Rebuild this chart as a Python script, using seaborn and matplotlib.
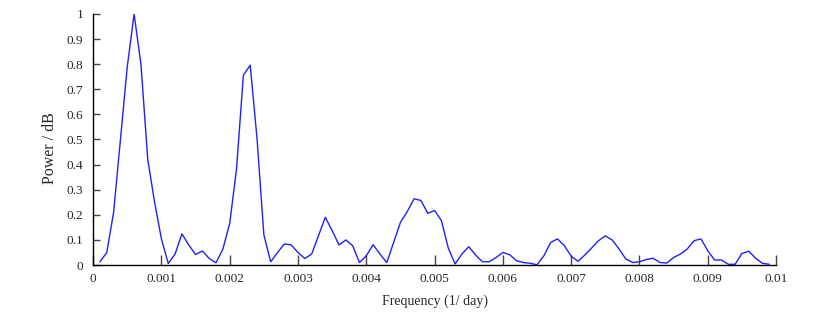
import numpy as np
import pandas as pd
import seaborn as sns
import matplotlib
matplotlib.use("Agg")
import matplotlib.pyplot as plt
from matplotlib.ticker import FuncFormatter, MultipleLocator

# frequency grid (1/day)
freq = [0.0001, 0.0002, 0.0003, 0.0004, 0.0005, 0.0006, 0.0007, 0.0008, 0.0009, 0.0010,
        0.0011, 0.0012, 0.0013, 0.0014, 0.0015, 0.0016, 0.0017, 0.0018, 0.0019, 0.0020,
        0.0021, 0.0022, 0.0023, 0.0024, 0.0025, 0.0026, 0.0027, 0.0028, 0.0029, 0.0030,
        0.0031, 0.0032, 0.0033, 0.0034, 0.0035, 0.0036, 0.0037, 0.0038, 0.0039, 0.0040,
        0.0041, 0.0042, 0.0043, 0.0044, 0.0045, 0.0046, 0.0047, 0.0048, 0.0049, 0.0050,
        0.0051, 0.0052, 0.0053, 0.0054, 0.0055, 0.0056, 0.0057, 0.0058, 0.0059, 0.0060,
        0.0061, 0.0062, 0.0063, 0.0064, 0.0065, 0.0066, 0.0067, 0.0068, 0.0069, 0.0070,
        0.0071, 0.0072, 0.0073, 0.0074, 0.0075, 0.0076, 0.0077, 0.0078, 0.0079, 0.0080,
        0.0081, 0.0082, 0.0083, 0.0084, 0.0085, 0.0086, 0.0087, 0.0088, 0.0089, 0.0090,
        0.0091, 0.0092, 0.0093, 0.0094, 0.0095, 0.0096, 0.0097, 0.0098, 0.0099]

# normalised power
power = [0.013, 0.05, 0.21, 0.50, 0.79, 1.00, 0.80, 0.42, 0.25, 0.104,
         0.006, 0.044, 0.124, 0.08, 0.042, 0.056, 0.026, 0.009, 0.064, 0.166,
         0.384, 0.756, 0.796, 0.503, 0.12, 0.013, 0.05, 0.084, 0.08, 0.05,
         0.026, 0.044, 0.117, 0.19, 0.137, 0.08, 0.1, 0.077, 0.01, 0.037,
         0.081, 0.044, 0.01, 0.09, 0.17, 0.213, 0.264, 0.257, 0.206, 0.217,
         0.177, 0.068, 0.004, 0.044, 0.073, 0.04, 0.013, 0.013, 0.03, 0.05,
         0.041, 0.017, 0.01, 0.007, 0.001, 0.037, 0.09, 0.104, 0.077, 0.035,
         0.015, 0.04, 0.068, 0.097, 0.116, 0.1, 0.064, 0.024, 0.01, 0.013,
         0.022, 0.027, 0.01, 0.008, 0.03, 0.044, 0.064, 0.097, 0.104, 0.057,
         0.02, 0.02, 0.003, 0.003, 0.046, 0.055, 0.027, 0.007, 0.003]

df = pd.DataFrame({"freq": freq, "power": power})

sns.set_style("ticks")
plt.rcParams["font.family"] = ["Liberation Serif", "DejaVu Serif"]

fig = plt.figure(figsize=(8.39, 3.24), dpi=100)
ax = fig.add_axes([0.111, 0.182, 0.814, 0.775])

sns.lineplot(data=df, x="freq", y="power", color="#2020ff", lw=1.0, ax=ax)

ax.set_xlim(0, 0.01)
ax.set_ylim(0, 1)
ax.xaxis.set_major_locator(MultipleLocator(0.001))
ax.yaxis.set_major_locator(MultipleLocator(0.1))
fmt = FuncFormatter(lambda v, p: "%g" % round(v, 6))
ax.xaxis.set_major_formatter(fmt)
ax.yaxis.set_major_formatter(fmt)

ax.tick_params(axis="x", direction="in", length=7.5, width=1, color="#444444",
               labelsize=9.5, pad=5.5)
ax.tick_params(axis="y", direction="in", length=5, width=1, color="#444444",
               labelsize=9.5, pad=7)
for s in ["left", "bottom"]:
    ax.spines[s].set_linewidth(1)
    ax.spines[s].set_color("black")
sns.despine(ax=ax)

ax.set_xlabel("Frequency (1/ day)", fontsize=10, labelpad=7)
ax.set_ylabel("Power / dB", fontsize=11.5, labelpad=6)
ax.yaxis.label.set_y(0.465)

fig.savefig("out.png", dpi=100)
